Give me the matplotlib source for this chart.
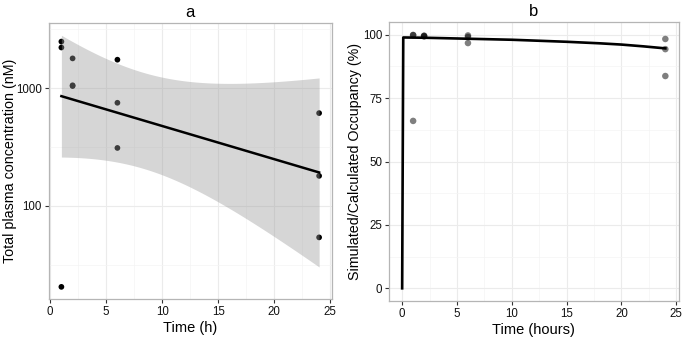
import numpy as np
import matplotlib
matplotlib.use("Agg")
import matplotlib.pyplot as plt
from matplotlib.ticker import FixedLocator, NullFormatter

plt.rcParams["font.family"] = ["Liberation Sans", "DejaVu Sans"]

# ---- Panel a data: total plasma concentration (nM) vs time (h)
conc_time = [1, 1, 1, 2, 2, 2, 6, 6, 6, 24, 24, 24]
conc_nM = [2495, 2222, 20.5, 1795, 1060, 1045, 1750, 753, 311, 615, 180, 54]
t_crit = 2.228  # t(0.975, df=10) for the 95% confidence band

# ---- Panel b data: simulated/calculated occupancy (%)
occ_time = [1, 1, 1, 2, 2, 2, 6, 6, 6, 24, 24, 24]
occ_pct = [99.9, 99.8, 66.0, 99.6, 99.5, 99.3, 99.7, 99.1, 96.7, 98.3, 94.3, 83.7]
sim_time = [0, 0.1, 2, 6, 10, 12.5, 15, 18, 20, 22, 24]
sim_occ = [0, 98.9, 98.8, 98.4, 98.0, 97.6, 97.2, 96.6, 96.1, 95.4, 94.6]

W, H = 685, 337
fig = plt.figure(figsize=(W / 100, H / 100), dpi=100)

def frac(l, t, r, b):
    return [l / W, 1 - b / H, (r - l) / W, (b - t) / H]

ax1 = fig.add_axes(frac(48.5, 23, 332, 299.3))
ax2 = fig.add_axes(frac(389, 22, 678.5, 301))

def style(ax):
    ax.set_facecolor("white")
    for s in ax.spines.values():
        s.set_color("#b5b5b5")
        s.set_linewidth(0.9)
    ax.tick_params(axis="both", which="major", length=3, width=0.8,
                   color="#333333", labelsize=8.3, labelcolor="#111111", pad=2)
    ax.tick_params(axis="both", which="minor", length=0)
    ax.grid(True, which="major", color="#ebebeb", linewidth=0.8, zorder=0)
    ax.grid(True, which="minor", color="#f4f4f4", linewidth=0.5, zorder=0)
    ax.set_axisbelow(True)

# ---------------- Panel a ----------------
style(ax1)
x = np.array(conc_time, dtype=float)
ly = np.log10(np.array(conc_nM, dtype=float))
slope, intercept = np.polyfit(x, ly, 1)
n = len(x)
resid = ly - (slope * x + intercept)
s = np.sqrt(np.sum(resid ** 2) / (n - 2))
xs = np.linspace(x.min(), x.max(), 80)
fit = slope * xs + intercept
se = s * np.sqrt(1 / n + (xs - x.mean()) ** 2 / np.sum((x - x.mean()) ** 2))
upper = fit + t_crit * se
lower = fit - t_crit * se

ax1.scatter(conc_time, conc_nM, s=17, color="black", edgecolors="none", zorder=2)
ax1.fill_between(xs, 10 ** lower, 10 ** upper, color="#999999", alpha=0.4,
                 linewidth=0, zorder=3)
ax1.plot(xs, 10 ** fit, color="black", lw=1.8, zorder=4)

ax1.set_yscale("log")
ax1.set_xlim(-0.15, 25.15)
ax1.set_ylim(10 ** 1.206, 10 ** 3.555)
ax1.yaxis.set_major_locator(FixedLocator([100, 1000]))
ax1.set_yticklabels(["100", "1000"])
ax1.yaxis.set_minor_locator(FixedLocator([10 ** 1.5, 10 ** 2.5, 10 ** 3.5]))
ax1.yaxis.set_minor_formatter(NullFormatter())
ax1.xaxis.set_major_locator(FixedLocator([0, 5, 10, 15, 20, 25]))
ax1.xaxis.set_minor_locator(FixedLocator([2.5, 7.5, 12.5, 17.5, 22.5]))
ax1.set_xlabel("Time (h)", fontsize=10.5, labelpad=2)
ax1.set_ylabel("Total plasma concentration (nM)", fontsize=10.3)
ax1.yaxis.set_label_coords((17.5 - 48.5) / 283.5, 0.5)
ax1.set_title("a", fontsize=12, pad=4)

# ---------------- Panel b ----------------
style(ax2)
ax2.scatter(occ_time, occ_pct, s=22, color="black", alpha=0.5,
            edgecolors="none", zorder=2)
ax2.plot(sim_time, sim_occ, color="black", lw=1.9, zorder=3,
         solid_joinstyle="round")
ax2.set_xlim(-1.2, 25.2)
ax2.set_ylim(-5, 105)
ax2.xaxis.set_major_locator(FixedLocator([0, 5, 10, 15, 20, 25]))
ax2.xaxis.set_minor_locator(FixedLocator([2.5, 7.5, 12.5, 17.5, 22.5]))
ax2.yaxis.set_major_locator(FixedLocator([0, 25, 50, 75, 100]))
ax2.yaxis.set_minor_locator(FixedLocator([12.5, 37.5, 62.5, 87.5]))
ax2.set_xlabel("Time (hours)", fontsize=10.5, labelpad=2)
ax2.set_ylabel("Simulated/Calculated Occupancy (%)", fontsize=10.3)
ax2.yaxis.set_label_coords((361.5 - 389) / 289.5, 0.5)
ax2.set_title("b", fontsize=12, pad=4)

fig.savefig("out.png", dpi=100, facecolor="white")
